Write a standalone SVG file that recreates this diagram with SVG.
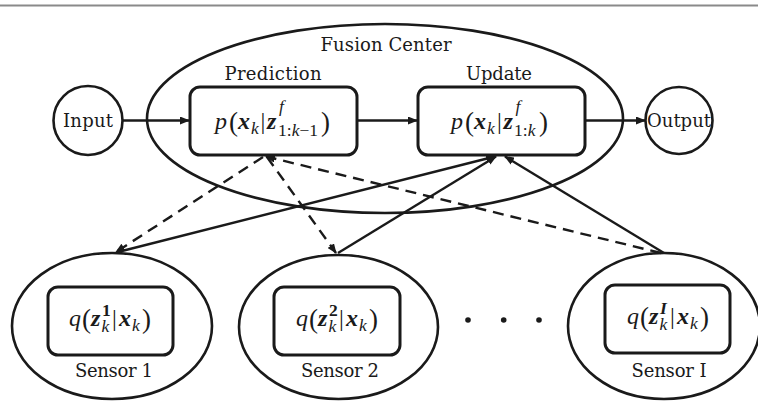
<svg xmlns="http://www.w3.org/2000/svg" width="758" height="401" viewBox="0 0 758 401">
<defs>
<style>
.shape{fill:none;stroke:#1a1a1a;stroke-width:2.6}
.box{fill:#fff;stroke:#1a1a1a;stroke-width:3}
.lbl{font-family:"DejaVu Serif","Liberation Serif",serif;font-size:18px;fill:#1a1a1a}
.m{font-family:"Liberation Serif","DejaVu Serif",serif;font-size:24px;fill:#1a1a1a}
.it{font-style:italic}
.bi{font-style:italic;font-weight:bold}
.b{font-weight:bold}
.s{font-size:17.5px}
.par{font-size:27px}
.conn{fill:none;stroke:#1a1a1a;stroke-width:2.4}
.dash{stroke-dasharray:11 7}
</style>
<marker id="ah" viewBox="0 0 10 8" refX="9" refY="4" markerWidth="10" markerHeight="8" markerUnits="userSpaceOnUse" orient="auto">
<path d="M0,0 L10,4 L0,8 z" fill="#1a1a1a"/>
</marker>
</defs>
<rect width="758" height="401" fill="#fff"/>
<line x1="0" y1="5.5" x2="758" y2="5.5" stroke="#8a8a8a" stroke-width="2"/>

<g id="fusion-center">
<ellipse class="shape" cx="385" cy="118.5" rx="238" ry="94.5"/>
<text class="lbl" x="386" y="51" text-anchor="middle" font-size="19" textLength="131">Fusion Center</text>
</g>

<g id="input">
<circle class="shape" cx="88" cy="120.5" r="34.5"/>
<text class="lbl" x="88" y="127" text-anchor="middle" textLength="50">Input</text>
</g>

<g id="output">
<circle class="shape" cx="679" cy="120.5" r="33.5"/>
<text class="lbl" x="679" y="127" text-anchor="middle" textLength="64">Output</text>
</g>

<g id="connectors">
<line class="conn" x1="123" y1="120.5" x2="189" y2="120.5" marker-end="url(#ah)"/>
<line class="conn" x1="357" y1="120.5" x2="417" y2="120.5" marker-end="url(#ah)"/>
<line class="conn" x1="585" y1="120.5" x2="645" y2="120.5" marker-end="url(#ah)"/>
<line class="conn dash" x1="263" y1="157" x2="116" y2="252" marker-end="url(#ah)"/>
<line class="conn dash" x1="267" y1="157" x2="336" y2="253" marker-end="url(#ah)"/>
<line class="conn dash" x1="661" y1="253" x2="266" y2="156.5" marker-end="url(#ah)"/>
<line class="conn" x1="118" y1="252" x2="495" y2="156.5" marker-end="url(#ah)"/>
<line class="conn" x1="338" y1="253" x2="496" y2="156.5" marker-end="url(#ah)"/>
<line class="conn" x1="664" y1="253" x2="505" y2="156.5" marker-end="url(#ah)"/>
</g>

<g id="prediction">
<rect class="box" x="190" y="87" width="167" height="68" rx="10"/>
<text class="lbl" x="273" y="80" text-anchor="middle" textLength="97">Prediction</text>
<text class="m">
<tspan class="it" x="215" y="129">p</tspan><tspan class="par" x="229" y="131">(</tspan><tspan class="bi" x="238" y="129">x</tspan><tspan class="it s" x="251" y="134">k</tspan><tspan x="260.5" y="129">|</tspan><tspan class="bi" x="267" y="129">z</tspan><tspan class="it s" x="279" y="112">f</tspan><tspan class="s" x="278" y="136">1:<tspan class="it">k</tspan>−1</tspan><tspan class="par" x="321" y="131">)</tspan>
</text>
</g>

<g id="update">
<rect class="box" x="418" y="87" width="167" height="68" rx="10"/>
<text class="lbl" x="499" y="80" text-anchor="middle" textLength="66">Update</text>
<text class="m">
<tspan class="it" x="451" y="129">p</tspan><tspan class="par" x="465" y="131">(</tspan><tspan class="bi" x="474" y="129">x</tspan><tspan class="it s" x="487" y="134">k</tspan><tspan x="497" y="129">|</tspan><tspan class="bi" x="503.5" y="129">z</tspan><tspan class="it s" x="515.5" y="112">f</tspan><tspan class="s" x="514" y="136">1:<tspan class="it">k</tspan></tspan><tspan class="par" x="539" y="131">)</tspan>
</text>
</g>

<g id="sensor-1">
<ellipse class="shape" cx="112" cy="326" rx="100" ry="73"/>
<rect class="box" x="48" y="287" width="125" height="68" rx="10"/>
<text class="m">
<tspan class="it" x="69" y="326">q</tspan><tspan class="par" x="82" y="328">(</tspan><tspan class="bi" x="91" y="326">z</tspan><tspan class="b s" x="102" y="316">1</tspan><tspan class="it s" x="101.5" y="332">k</tspan><tspan x="112" y="326">|</tspan><tspan class="bi" x="119" y="326">x</tspan><tspan class="it s" x="132" y="331">k</tspan><tspan class="par" x="142" y="328">)</tspan>
</text>
<text class="lbl" x="114" y="377" text-anchor="middle" textLength="78">Sensor 1</text>
</g>

<g id="sensor-2">
<ellipse class="shape" cx="338.5" cy="327" rx="99.5" ry="72"/>
<rect class="box" x="274" y="287" width="126" height="68" rx="10"/>
<text class="m">
<tspan class="it" x="296" y="326">q</tspan><tspan class="par" x="309" y="328">(</tspan><tspan class="bi" x="318" y="326">z</tspan><tspan class="b s" x="329" y="316">2</tspan><tspan class="it s" x="328.5" y="332">k</tspan><tspan x="339" y="326">|</tspan><tspan class="bi" x="346" y="326">x</tspan><tspan class="it s" x="359" y="331">k</tspan><tspan class="par" x="369" y="328">)</tspan>
</text>
<text class="lbl" x="340" y="377" text-anchor="middle" textLength="78">Sensor 2</text>
</g>

<g id="ellipsis">
<circle cx="468" cy="320" r="2.8" fill="#1a1a1a"/>
<circle cx="503.7" cy="320" r="2.8" fill="#1a1a1a"/>
<circle cx="539" cy="320" r="2.8" fill="#1a1a1a"/>
</g>

<g id="sensor-I">
<ellipse class="shape" cx="664" cy="326" rx="96" ry="73"/>
<rect class="box" x="605" y="285" width="125" height="68" rx="10"/>
<text class="m">
<tspan class="it" x="627" y="324">q</tspan><tspan class="par" x="640" y="326">(</tspan><tspan class="bi" x="649" y="324">z</tspan><tspan class="bi s" x="660" y="314">I</tspan><tspan class="it s" x="659.5" y="330">k</tspan><tspan x="670" y="324">|</tspan><tspan class="bi" x="677" y="324">x</tspan><tspan class="it s" x="690" y="329">k</tspan><tspan class="par" x="700" y="326">)</tspan>
</text>
<text class="lbl" x="669" y="376.5" text-anchor="middle" textLength="75">Sensor I</text>
</g>
</svg>
